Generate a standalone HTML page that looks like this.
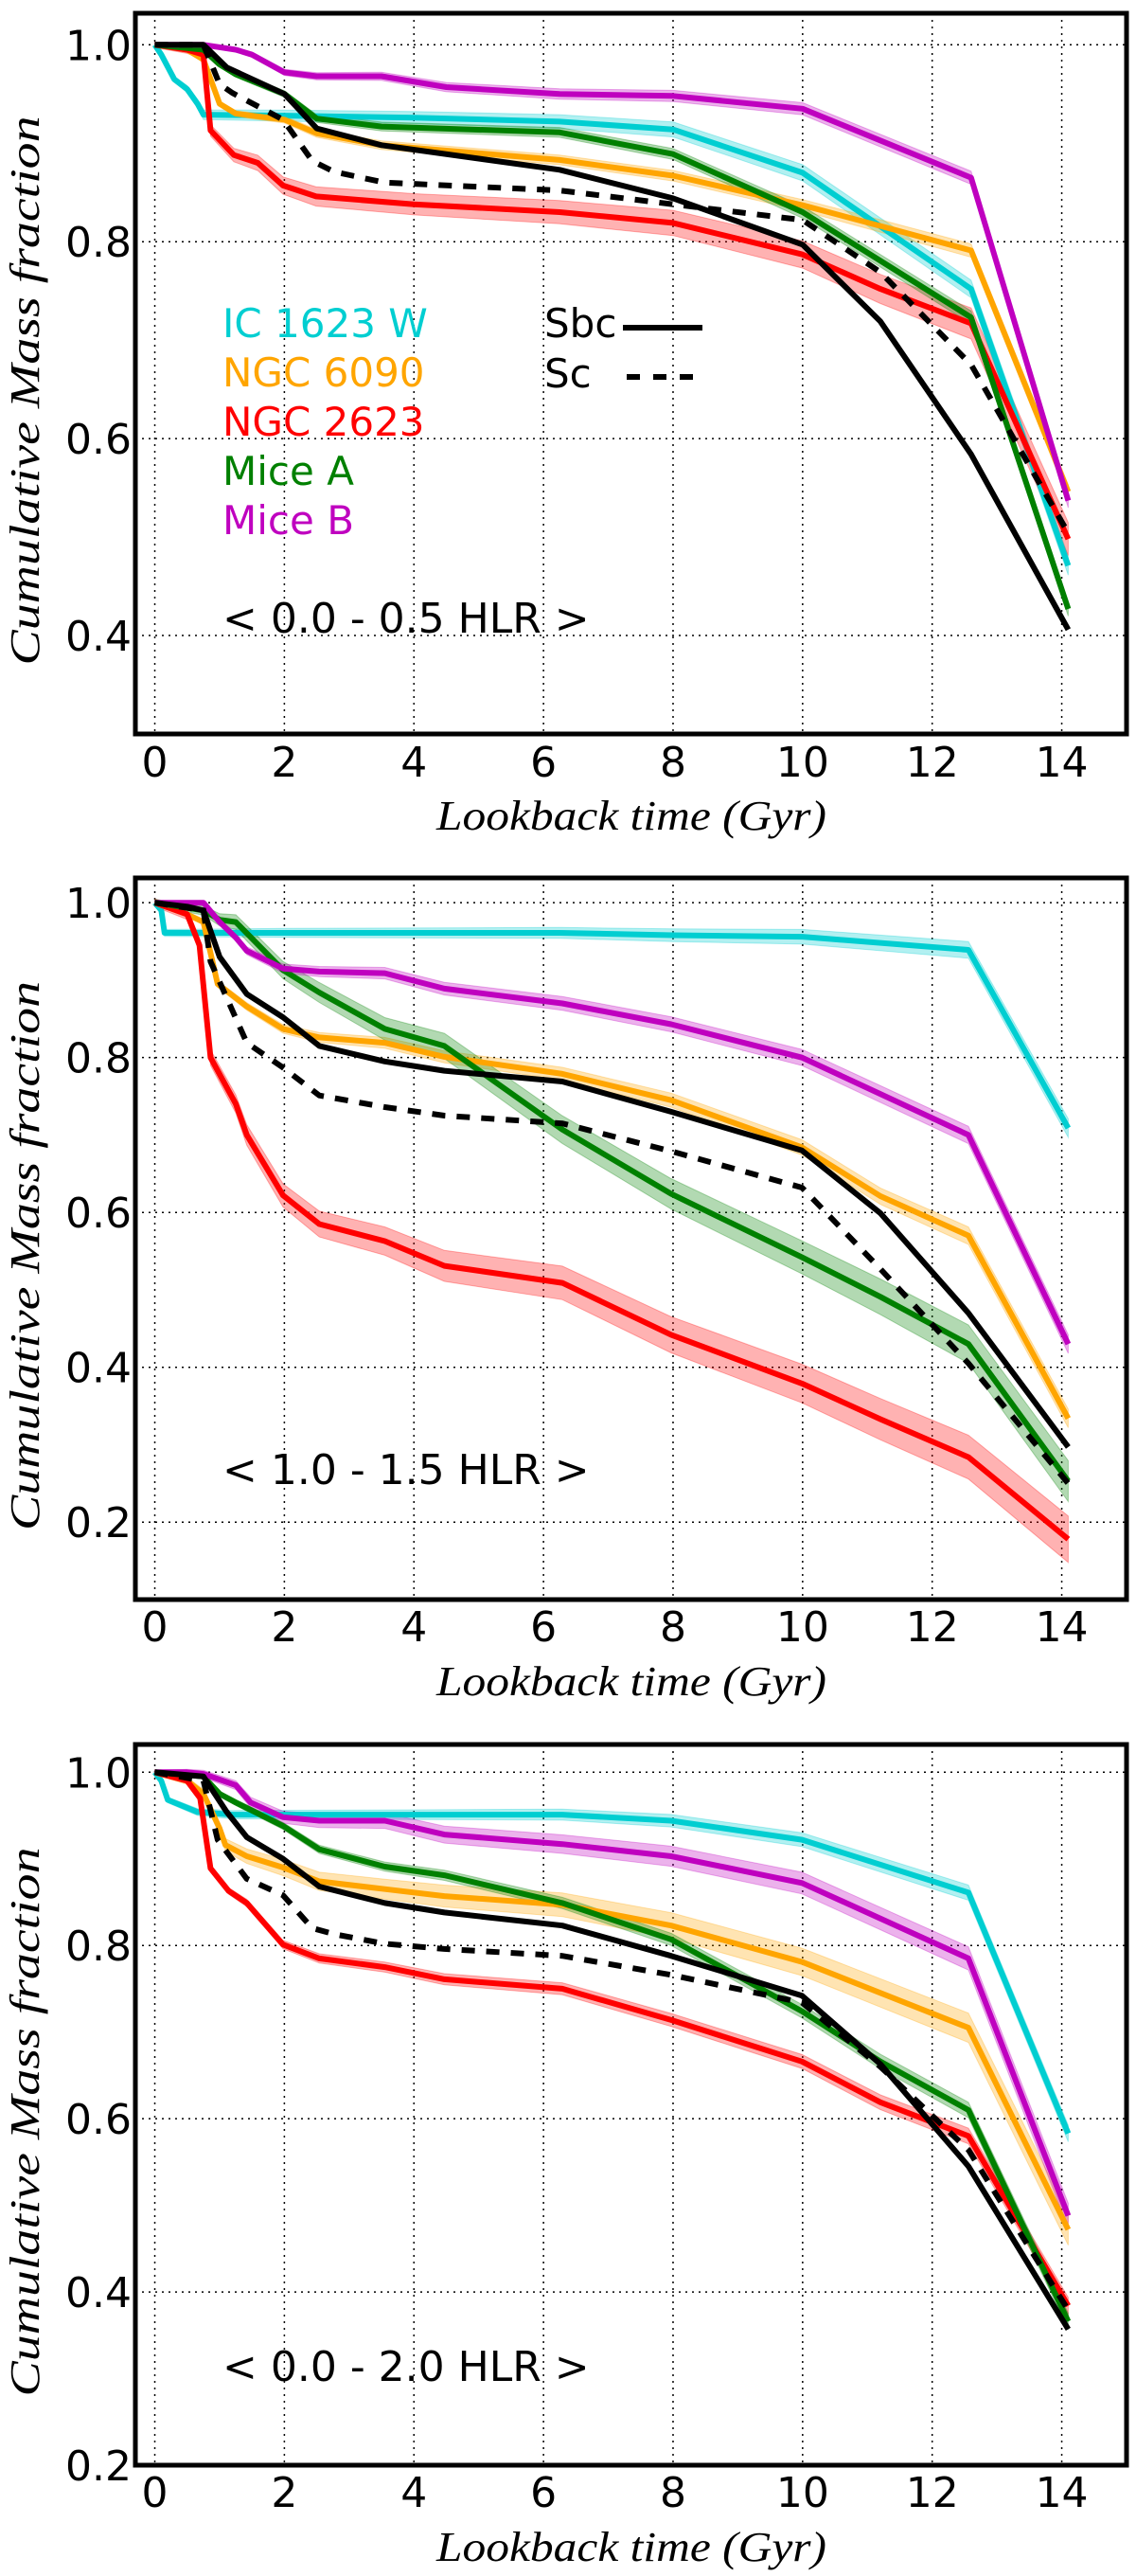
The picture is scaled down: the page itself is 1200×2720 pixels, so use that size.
<!DOCTYPE html>
<html><head><meta charset="utf-8">
<style>
html,body{margin:0;padding:0;background:#fff;}
svg{display:block;}
text{font-family:"DejaVu Sans","Liberation Sans",sans-serif;}
.serif{font-family:"Liberation Serif","DejaVu Serif",serif;font-style:italic;}
</style></head>
<body>
<svg id="fig" width="1200" height="2720" viewBox="0 0 1200 2720" xmlns="http://www.w3.org/2000/svg"></svg>
<script>
// ---------- data ----------
const xTicks = [0,2,4,6,8,10,12,14];
const p1YTicks = [0.4,0.6,0.8,1.0];
const p2YTicks = [0.2,0.4,0.6,0.8,1.0];
const p3YTicks = [0.2,0.4,0.6,0.8,1.0];
const seriesNames = ["IC 1623 W","NGC 6090","NGC 2623","Mice A","Mice B"];
const seriesColors = ["#00CED1","#FFA500","#FF0000","#008000","#BF00BF"];

// Panel 1 (0.0 - 0.5 HLR)
const p1CyanT = [0,0.1,0.3,0.5,0.66,0.75,2,4,6.25,8,10,12.6,14.1];
const p1CyanY = [1.0,0.99,0.965,0.955,0.94,0.929,0.928,0.926,0.922,0.914,0.87,0.752,0.471];
const p1OrangeT = [0,0.5,0.75,1.0,1.25,2.0,2.5,3.5,6.25,8,10,11.2,12.6,14.1];
const p1OrangeY = [1.0,0.995,0.985,0.94,0.93,0.924,0.91,0.898,0.883,0.867,0.837,0.816,0.791,0.546];
const p1RedT = [0,0.5,0.75,0.86,1.22,1.59,1.98,2.49,4.0,6.25,8,10,11.2,12.6,14.1];
const p1RedY = [1.0,0.995,0.99,0.913,0.888,0.88,0.857,0.846,0.838,0.83,0.819,0.787,0.752,0.717,0.498];
const p1GreenT = [0,0.75,1.0,1.25,2.0,2.5,3.5,6.25,8,10,12.6,14.1];
const p1GreenY = [1.0,0.995,0.98,0.97,0.95,0.925,0.917,0.911,0.889,0.83,0.723,0.427];
const p1MagentaT = [0,0.75,1.25,1.5,2.0,2.5,3.5,4.5,6.25,8,10,12.6,14.1];
const p1MagentaY = [1.0,1.0,0.995,0.99,0.972,0.968,0.968,0.957,0.95,0.948,0.935,0.865,0.537];
const p1SbcT = [0,0.75,1.11,2.0,2.5,3.5,6.25,8,10,11.2,12.6,14.1];
const p1SbcY = [1.0,1.0,0.977,0.95,0.915,0.898,0.873,0.844,0.797,0.719,0.584,0.406];
const p1ScT = [0,0.75,1.0,1.2,1.98,2.43,2.77,3.55,6.25,8,10,11.2,12.6,14.1];
const p1ScY = [1.0,1.0,0.96,0.951,0.924,0.882,0.871,0.86,0.852,0.838,0.822,0.769,0.675,0.504];
const p1Band = [0.008,0.006,0.014,0.006,0.006];

// Panel 2 (1.0 - 1.5 HLR)
const p2CyanT = [0,0.1,0.15,2,6.25,8,10,12.56,14.1];
const p2CyanY = [1.0,0.99,0.961,0.961,0.961,0.958,0.956,0.939,0.709];
const p2OrangeT = [0,0.5,0.75,0.97,1.42,1.98,2.54,3.55,4.47,6.29,7.97,9.99,11.2,12.56,14.1];
const p2OrangeY = [1.0,0.985,0.975,0.895,0.866,0.837,0.826,0.819,0.801,0.779,0.745,0.684,0.621,0.57,0.334];
const p2RedT = [0,0.5,0.69,0.86,1.25,1.42,1.98,2.54,3.55,4.47,6.29,7.97,9.99,11.2,12.56,14.1];
const p2RedY = [1.0,0.985,0.945,0.80,0.74,0.70,0.622,0.585,0.563,0.531,0.509,0.442,0.379,0.333,0.284,0.178];
const p2GreenT = [0,0.75,1.0,1.25,1.98,2.54,3.55,4.47,6.29,7.97,9.99,11.2,12.56,14.1];
const p2GreenY = [1.0,0.99,0.978,0.975,0.913,0.884,0.837,0.815,0.707,0.624,0.542,0.491,0.43,0.253];
const p2MagentaT = [0,0.75,1.0,1.25,1.42,1.98,2.54,3.55,4.47,6.29,7.97,9.99,12.56,14.1];
const p2MagentaY = [1.0,1.0,0.975,0.955,0.938,0.915,0.911,0.909,0.889,0.87,0.843,0.80,0.70,0.43];
const p2SbcT = [0,0.5,0.75,1.0,1.42,1.98,2.54,3.55,4.47,6.29,7.97,9.99,11.2,12.56,14.1];
const p2SbcY = [1.0,0.995,0.99,0.93,0.882,0.852,0.815,0.795,0.783,0.769,0.73,0.68,0.599,0.47,0.297];
const p2ScT = [0,0.75,0.86,1.42,1.98,2.54,3.55,4.47,6.29,7.97,9.99,11.2,12.56,14.1];
const p2ScY = [1.0,0.99,0.924,0.819,0.787,0.751,0.736,0.725,0.715,0.679,0.632,0.527,0.405,0.25];
const p2Band = [0.01,0.01,0.025,0.022,0.01];

// Panel 3 (0.0 - 2.0 HLR)
const p3CyanT = [0,0.1,0.2,0.66,1.2,4,6.29,7.97,9.99,12.56,14.1];
const p3CyanY = [1.0,0.99,0.968,0.954,0.951,0.951,0.951,0.944,0.922,0.861,0.583];
const p3OrangeT = [0,0.5,0.75,1.0,1.09,1.42,1.98,2.54,3.55,4.47,6.29,7.97,9.99,12.56,14.1];
const p3OrangeY = [1.0,0.99,0.975,0.935,0.916,0.903,0.89,0.874,0.865,0.857,0.847,0.823,0.781,0.705,0.472];
const p3RedT = [0,0.5,0.7,0.86,1.14,1.42,1.98,2.54,3.55,4.47,6.29,7.97,9.99,11.2,12.56,14.1];
const p3RedY = [1.0,0.99,0.97,0.889,0.863,0.849,0.801,0.785,0.775,0.761,0.75,0.714,0.666,0.619,0.58,0.384];
const p3GreenT = [0,0.75,1.0,1.25,1.98,2.54,3.55,4.47,6.29,7.97,9.99,11.2,12.56,14.1];
const p3GreenY = [1.0,0.995,0.975,0.965,0.938,0.911,0.891,0.881,0.849,0.807,0.724,0.666,0.61,0.366];
const p3MagentaT = [0,0.5,0.75,1.25,1.48,1.98,2.54,3.55,4.47,6.29,7.97,9.99,12.56,14.1];
const p3MagentaY = [1.0,1.0,0.998,0.985,0.965,0.948,0.944,0.944,0.928,0.917,0.903,0.872,0.785,0.488];
const p3SbcT = [0,0.75,1.11,1.42,1.98,2.54,3.55,4.47,6.29,7.97,9.99,11.2,12.56,14.1];
const p3SbcY = [1.0,0.995,0.954,0.925,0.90,0.868,0.849,0.838,0.823,0.788,0.742,0.663,0.545,0.357];
const p3ScT = [0,0.75,0.97,1.42,1.98,2.43,2.77,3.55,4.47,6.29,7.97,9.99,11.2,12.56,14.1];
const p3ScY = [1.0,0.99,0.922,0.877,0.858,0.82,0.813,0.802,0.796,0.788,0.766,0.734,0.66,0.564,0.379];
const p3Band = [0.008,0.015,0.008,0.008,0.012];

const regionLabels = ["< 0.0 - 0.5 HLR >","< 1.0 - 1.5 HLR >","< 0.0 - 2.0 HLR >"];

// ---------- drawing ----------
const NS = "http://www.w3.org/2000/svg";
const svg = document.getElementById("fig");
function mk(tag, attrs, parent){
  const e = document.createElementNS(NS, tag);
  for (const k in attrs) e.setAttribute(k, attrs[k]);
  (parent||svg).appendChild(e);
  return e;
}
const X0 = 143, X1 = 1190, XMIN = -0.3, XMAX = 15.0;
function xs(v){ return X0 + (v - XMIN) / (XMAX - XMIN) * (X1 - X0); }

const panels = [
  {top:14, bottom:775, ymin:0.3, ymax:1.032, ticks:p1YTicks, band:p1Band,
   cols:[[p1CyanT,p1CyanY],[p1OrangeT,p1OrangeY],[p1RedT,p1RedY],[p1GreenT,p1GreenY],[p1MagentaT,p1MagentaY]],
   sbc:[p1SbcT,p1SbcY], sc:[p1ScT,p1ScY], legend:true, lblY:668, tickY:820, xlabY:876},
  {top:927, bottom:1689, ymin:0.1, ymax:1.032, ticks:p2YTicks, band:p2Band,
   cols:[[p2CyanT,p2CyanY],[p2OrangeT,p2OrangeY],[p2RedT,p2RedY],[p2GreenT,p2GreenY],[p2MagentaT,p2MagentaY]],
   sbc:[p2SbcT,p2SbcY], sc:[p2ScT,p2ScY], legend:false, lblY:1567, tickY:1733, xlabY:1790},
  {top:1842, bottom:2603, ymin:0.2, ymax:1.032, ticks:p3YTicks, band:p3Band,
   cols:[[p3CyanT,p3CyanY],[p3OrangeT,p3OrangeY],[p3RedT,p3RedY],[p3GreenT,p3GreenY],[p3MagentaT,p3MagentaY]],
   sbc:[p3SbcT,p3SbcY], sc:[p3ScT,p3ScY], legend:false, lblY:2514, tickY:2647, xlabY:2704}
];
const keys = ["cyan","orange","red","green","magenta"];

panels.forEach((p, pi) => {
  const ys = v => p.bottom - (v - p.ymin) / (p.ymax - p.ymin) * (p.bottom - p.top);
  const g = mk("g", {});
  
  
  const clipId = "clip" + pi;
  const cp = mk("clipPath", {id: clipId}, g);
  mk("rect", {x:X0, y:p.top, width:X1-X0, height:p.bottom-p.top}, cp);

  // grid
  xTicks.forEach(t => {
    const l = mk("line", {x1:xs(t), x2:xs(t), y1:p.top, y2:p.bottom, stroke:"#000", "stroke-width":1.5, "stroke-dasharray":"2 5"}, g);
    
    
    const tl = mk("text", {x:xs(t), y:p.tickY, "font-size":44, "text-anchor":"middle"}, g);
    tl.textContent = t;
    
    
  });
  p.ticks.forEach(t => {
    const l = mk("line", {x1:X0, x2:X1, y1:ys(t), y2:ys(t), stroke:"#000", "stroke-width":1.5, "stroke-dasharray":"2 5"}, g);
    
    
    const tl = mk("text", {x:139, y:ys(t)+16, "font-size":44, "text-anchor":"end"}, g);
    tl.textContent = t.toFixed(1);
    
    
  });

  const plot = mk("g", {"clip-path":"url(#"+clipId+")"}, g);
  // bands + lines
  p.cols.forEach((s, si) => {
    const T = s[0], Y = s[1], w = p.band[si];
    let d = "";
    T.forEach((t,i) => d += (i?"L":"M") + xs(t).toFixed(1) + " " + ys(Y[i]+w*(i/(T.length-1)+0.2)).toFixed(1));
    for (let i=T.length-1;i>=0;i--) d += "L" + xs(T[i]).toFixed(1) + " " + ys(Y[i]-w*(i/(T.length-1)+0.2)).toFixed(1);
    const b = mk("path", {d:d+"Z", fill:seriesColors[si], "fill-opacity":0.3, stroke:seriesColors[si], "stroke-opacity":0.3, "stroke-width":1}, plot);
    
    
  });
  const lineOf = (T, Y) => T.map((t,i) => (i?"L":"M") + xs(t).toFixed(1) + " " + ys(Y[i]).toFixed(1)).join("");
  p.cols.forEach((s, si) => {
    const l = mk("path", {d:lineOf(s[0], s[1]), fill:"none", stroke:seriesColors[si], "stroke-width":6, "stroke-linejoin":"round"}, plot);
    
    
  });
  const sbc = mk("path", {d:lineOf(p.sbc[0], p.sbc[1]), fill:"none", stroke:"#000", "stroke-width":6, "stroke-linejoin":"round"}, plot);
  
  
  const sc = mk("path", {d:lineOf(p.sc[0], p.sc[1]), fill:"none", stroke:"#000", "stroke-width":6, "stroke-dasharray":"14 12"}, plot);
  
  

  // frame
  const fr = mk("rect", {x:X0, y:p.top, width:X1-X0, height:p.bottom-p.top, fill:"none", stroke:"#000", "stroke-width":5}, g);
  
  

  // region label
  const rl = mk("text", {x:235, y:p.lblY, "font-size":44}, g);
  rl.textContent = regionLabels[pi];
  
  

  // axis titles
  const cy = (p.top + p.bottom)/2 + 18;
  const yl = mk("text", {x:0, y:0, "font-size":44, "text-anchor":"middle", "class":"serif", textLength:580, lengthAdjust:"spacingAndGlyphs", transform:"translate(41 "+cy+") rotate(-90)"}, g);
  yl.textContent = "Cumulative Mass fraction";
  
  
  const xl = mk("text", {x:667, y:p.xlabY, "font-size":44, "text-anchor":"middle", "class":"serif", textLength:412, lengthAdjust:"spacingAndGlyphs"}, g);
  xl.textContent = "Lookback time (Gyr)";
  
  

  if (p.legend) {
    seriesNames.forEach((n, i) => {
      const t = mk("text", {x:235, y:356 + i*52, "font-size":42, fill:seriesColors[i]}, g);
      t.textContent = n;
      
      
    });
    const s1 = mk("text", {x:575, y:356, "font-size":42}, g);
    s1.textContent = "Sbc";
    
    
    const l1 = mk("line", {x1:658, x2:742, y1:346, y2:346, stroke:"#000", "stroke-width":6}, g);
    
    
    const s2 = mk("text", {x:575, y:409, "font-size":42}, g);
    s2.textContent = "Sc";
    
    
    const l2 = mk("line", {x1:662, x2:732, y1:398, y2:398, stroke:"#000", "stroke-width":6, "stroke-dasharray":"14 14"}, g);
    
    
  }
});
</script>
</body></html>
